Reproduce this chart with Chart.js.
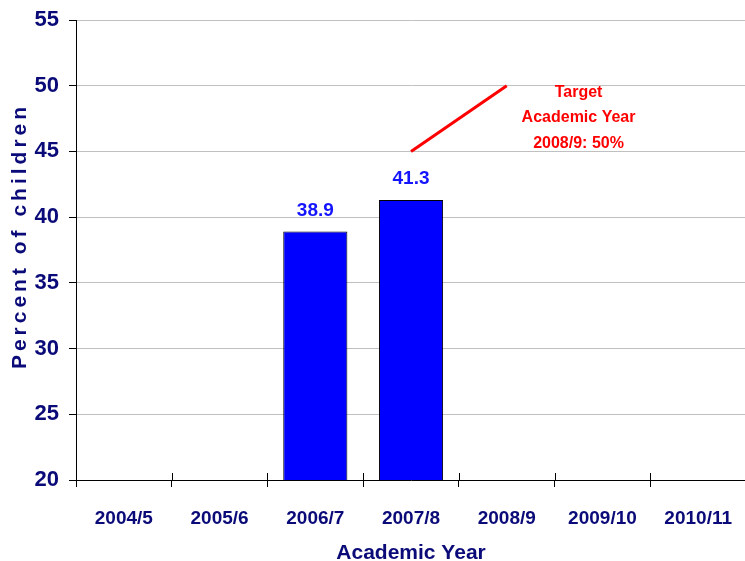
<!DOCTYPE html>
<html>
<head>
<meta charset="utf-8">
<script src="https://cdn.jsdelivr.net/npm/chart.js@4/dist/chart.umd.min.js"></script>
<style>
  html, body { margin: 0; padding: 0; overflow: hidden; background: #fff; }
  #wrap { width: 752px; height: 561px; }
</style>
</head>
<body>
<div id="wrap"><canvas id="myChart"></canvas></div>
<script>
const years = ['2004/5', '2005/6', '2006/7', '2007/8', '2008/9', '2009/10', '2010/11'];
const percentValues = [null, null, 38.9, 41.3, null, null, null];
const targetLine = [null, null, null, 45, 50, null, null];
const targetText = ['Target', 'Academic Year', '2008/9: 50%'];
const yTicks = [20, 25, 30, 35, 40, 45, 50, 55];

const NAVY = '#0a0a78';
const FONT = "'Liberation Sans', Arial, sans-serif";

const extras = {
    id: 'extras',
    afterDatasetsDraw(chart) {
        const ctx = chart.ctx;
        const x = chart.scales.x;
        const y = chart.scales.y;
        const area = chart.chartArea;
        const step = (area.right - area.left) / years.length;

        ctx.save();
        // inner half of x-axis tick marks
        ctx.strokeStyle = '#000';
        ctx.lineWidth = 1;
        for (let i = 0; i < years.length; i++) {
            const px = Math.round(area.left + i * step) + 0.5;
            ctx.beginPath();
            ctx.moveTo(px, area.bottom - 7);
            ctx.lineTo(px, area.bottom);
            ctx.stroke();
        }

        // value labels above bars
        ctx.fillStyle = '#1414ff';
        ctx.font = 'bold 19px ' + FONT;
        ctx.textAlign = 'center';
        ctx.textBaseline = 'middle';
        const meta = chart.getDatasetMeta(0);
        meta.data.forEach((bar, i) => {
            if (percentValues[i] == null) return;
            ctx.fillText(percentValues[i].toFixed(1), bar.x, bar.y - 21);
        });

        // target annotation
        ctx.fillStyle = '#ff0000';
        ctx.font = 'bold 16px ' + FONT;
        const tx = x.getPixelForValue(4) + 0.75 * step;
        const ty = y.getPixelForValue(49.5);
        targetText.forEach((t, i) => ctx.fillText(t, tx, ty + i * 25.5));

        // y axis title, letter spaced
        ctx.fillStyle = NAVY;
        ctx.font = 'bold 21px ' + FONT;
        ctx.letterSpacing = '4px';
        ctx.translate(20, (area.top + area.bottom) / 2 - 14);
        ctx.rotate(-Math.PI / 2);
        ctx.fillText('Percent of children', 0, 0);
        ctx.restore();
    }
};

new Chart('myChart', {
    data: {
        labels: years,
        datasets: [
            {
                type: 'bar',
                data: percentValues,
                backgroundColor: '#0000ff',
                borderColor: '#000',
                borderWidth: 1,
                barPercentage: 0.67,
                categoryPercentage: 1
            },
            {
                type: 'line',
                data: targetLine,
                borderColor: '#ff0000',
                borderWidth: 3,
                pointRadius: 0,
                spanGaps: false
            }
        ]
    },
    options: {
        responsive: true,
        maintainAspectRatio: false,
        animation: false,
        layout: { padding: { top: 20, right: 0, left: 0, bottom: 0 } },
        plugins: { legend: { display: false }, tooltip: { enabled: false } },
        scales: {
            x: {
                offset: true,
                grid: { drawOnChartArea: false, color: '#000', tickLength: 7, offset: true },
                border: { color: '#000', width: 1 },
                ticks: { color: NAVY, font: { family: FONT, size: 19, weight: 'bold' }, padding: 20, maxRotation: 0, autoSkip: false },
                title: { display: true, text: 'Academic Year', color: NAVY, font: { family: FONT, size: 21, weight: 'bold', lineHeight: 1 }, padding: { top: 0, bottom: -3 } },
                afterFit: s => { s.height = 81; }
            },
            y: {
                min: 20,
                max: 55,
                afterBuildTicks: s => { s.ticks = yTicks.map(v => ({ value: v })); },
                grid: { color: '#c0c0c0', tickColor: '#000', tickLength: 7 },
                border: { color: '#000', width: 1 },
                ticks: { color: NAVY, font: { family: FONT, size: 22, weight: 'bold', lineHeight: 0.8 }, padding: 10 },
                afterFit: s => { s.width = 76; }
            }
        }
    },
    plugins: [extras]
});
</script>
</body>
</html>
